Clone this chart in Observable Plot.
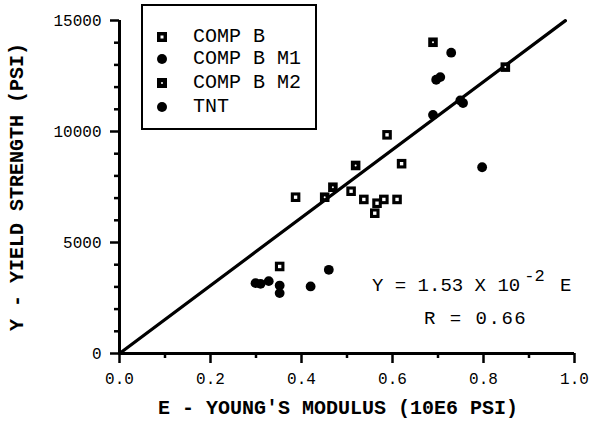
<!DOCTYPE html>
<html><head><meta charset="utf-8">
<script src="https://cdn.jsdelivr.net/npm/d3@7"></script>
<script src="https://cdn.jsdelivr.net/npm/@observablehq/plot@0.6"></script>
<style>
body{margin:0;background:#fff;}
#wrap{position:relative;width:592px;height:430px;font-family:"Liberation Mono",monospace;color:#000;}
#wrap svg{display:block;}
[aria-label="x-axis label"] text, [aria-label="y-axis label"] text{font-size:20px !important;font-weight:bold !important;}
#legend{position:absolute;left:141px;top:4px;width:172px;height:122px;border:2px solid #000;background:#fff;font-size:20px;}
.row{position:absolute;left:0;height:24px;line-height:24px;white-space:pre;}
.row svg{position:absolute;left:14px;top:7px;}
.row span{position:absolute;left:50px;top:0;}
.eq{position:absolute;font-size:19px;white-space:pre;}
.eq sup{font-size:17px;position:relative;top:-3px;margin-left:4px;margin-right:4px;}
</style></head><body><div id="wrap"></div>
<script>
// Data (E in 10^6 psi, Y in psi)
const compB_E = [0.387, 0.509, 0.537, 0.581, 0.610, 0.566, 0.561, 0.588, 0.620, 0.352];
const compB_Y = [7040, 7310, 6940, 6940, 6940, 6770, 6320, 9850, 8550, 3920];
const compBM2_E = [0.689, 0.848, 0.519, 0.451, 0.469];
const compBM2_Y = [14020, 12900, 8470, 7040, 7490];
const compBM1_E = [0.729, 0.696, 0.705, 0.749, 0.755, 0.689, 0.797];
const compBM1_Y = [13550, 12330, 12450, 11400, 11280, 10750, 8390];
const tnt_E = [0.299, 0.310, 0.328, 0.352, 0.352, 0.420, 0.460];
const tnt_Y = [3170, 3140, 3260, 3060, 2720, 3020, 3770];
// Fitted line Y = 1.53 x 10^-2 E  (E in psi -> 15300 * E with E in 10^6 psi)
const fitSlope = 15300;
const fitE = [0, 0.98];
const xMajor = [0, 0.2, 0.4, 0.6, 0.8, 1.0];
const xMinor = [0.1, 0.3, 0.5, 0.7, 0.9];
const yMajor = [0, 5000, 10000, 15000];
const yMinor = [1000,2000,3000,4000,6000,7000,8000,9000,11000,12000,13000,14000];
const legendLabels = ["COMP B", "COMP B M1", "COMP B M2", "TNT"];

const toRows = (E, Y) => E.map((e, i) => ({E: e, Y: Y[i]}));
const compB = toRows(compB_E, compB_Y);
const m2 = toRows(compBM2_E, compBM2_Y);
const m1 = toRows(compBM1_E, compBM1_Y);
const tnt = toRows(tnt_E, tnt_Y);
const fit = fitE.map(e => ({E: e, Y: fitSlope * e}));

const chart = Plot.plot({
  width: 592, height: 430,
  marginLeft: 119, marginRight: 18, marginTop: 20, marginBottom: 77,
  x: {domain: [0, 1]},
  y: {domain: [0, 15000]},
  style: {fontFamily: '"Liberation Mono", monospace', fontSize: "16px", background: "white", color: "black", overflow: "visible"},
  marks: [
    Plot.ruleX([0], {stroke: "black", strokeWidth: 3}),
    Plot.ruleY([0], {stroke: "black", strokeWidth: 3}),
    Plot.axisX({ticks: xMajor, tickSize: 0, tickPadding: 19, tickFormat: d3.format(".1f"),
      label: "E - YOUNG'S MODULUS (10E6 PSI)", labelAnchor: "center", labelOffset: 60, labelArrow: "none"}),
    Plot.axisY({ticks: yMajor, tickSize: 0, tickPadding: 18, tickFormat: d => String(d),
      label: "Y - YIELD STRENGTH (PSI)", labelAnchor: "center", labelOffset: 111, labelArrow: "none"}),
    Plot.line(fit, {x: "E", y: "Y", stroke: "black", strokeWidth: 3.2}),
    Plot.dot(compB, {x: "E", y: "Y", symbol: "square", r: 5.4, fill: "black"}),
    Plot.dot(compB, {x: "E", y: "Y", symbol: "square", r: 1.9, fill: "white"}),
    Plot.dot(m2, {x: "E", y: "Y", symbol: "square", r: 5.4, fill: "black"}),
    Plot.dot(m2, {x: "E", y: "Y", r: 1, fill: "white"}),
    Plot.dot(m1, {x: "E", y: "Y", r: 4.9, fill: "black"}),
    Plot.dot(tnt, {x: "E", y: "Y", r: 4.9, fill: "black"}),
    // tick marks drawn last as short rules hanging off the axes
    Plot.ruleX(xMinor, {y1: 0, y2: 0, insetBottom: -5, stroke: "black", strokeWidth: 2.5}),
    Plot.ruleX(xMajor, {y1: 0, y2: 0, insetBottom: -10, stroke: "black", strokeWidth: 2.5}),
    Plot.ruleY(yMinor, {x1: 0, x2: 0, insetLeft: -5, stroke: "black", strokeWidth: 2.5}),
    Plot.ruleY(yMajor, {x1: 0, x2: 0, insetLeft: -9, stroke: "black", strokeWidth: 2.5})
  ]
});
const wrap = document.getElementById("wrap");
wrap.appendChild(chart);
const xl = chart.querySelector('[aria-label="x-axis label"]');
if (xl) { const t = xl.getAttribute("transform") || ""; xl.setAttribute("transform", "translate(-9,0) " + t); }

// Legend
const legend = document.createElement("div");
legend.id = "legend";
const symbols = [
  '<svg width="11" height="11"><rect x="0" y="0" width="10" height="10" fill="#000"/><rect x="3.5" y="3.5" width="3" height="3" fill="#fff"/></svg>',
  '<svg width="11" height="11"><circle cx="5" cy="5" r="5" fill="#000"/></svg>',
  '<svg width="11" height="11"><rect x="0" y="0" width="10" height="10" fill="#000"/><circle cx="5" cy="5" r="1" fill="#fff"/></svg>',
  '<svg width="11" height="11"><circle cx="5" cy="5" r="5" fill="#000"/></svg>'
];
const rowTops = [19, 41, 65, 89];
legendLabels.forEach((lab, i) => {
  const r = document.createElement("div");
  r.className = "row";
  r.style.top = rowTops[i] + "px";
  r.innerHTML = symbols[i] + "<span>" + lab + "</span>";
  legend.appendChild(r);
});
wrap.appendChild(legend);

// Annotations
const eq = document.createElement("div");
eq.className = "eq";
eq.style.left = "372px"; eq.style.top = "270px";
eq.innerHTML = "Y = 1.53 X 10<sup>-2</sup> E";
wrap.appendChild(eq);
const rr = document.createElement("div");
rr.className = "eq";
rr.style.left = "424px"; rr.style.top = "308px";
rr.style.letterSpacing = "1.5px";
rr.textContent = "R = 0.66";
wrap.appendChild(rr);
</script>
</body></html>
